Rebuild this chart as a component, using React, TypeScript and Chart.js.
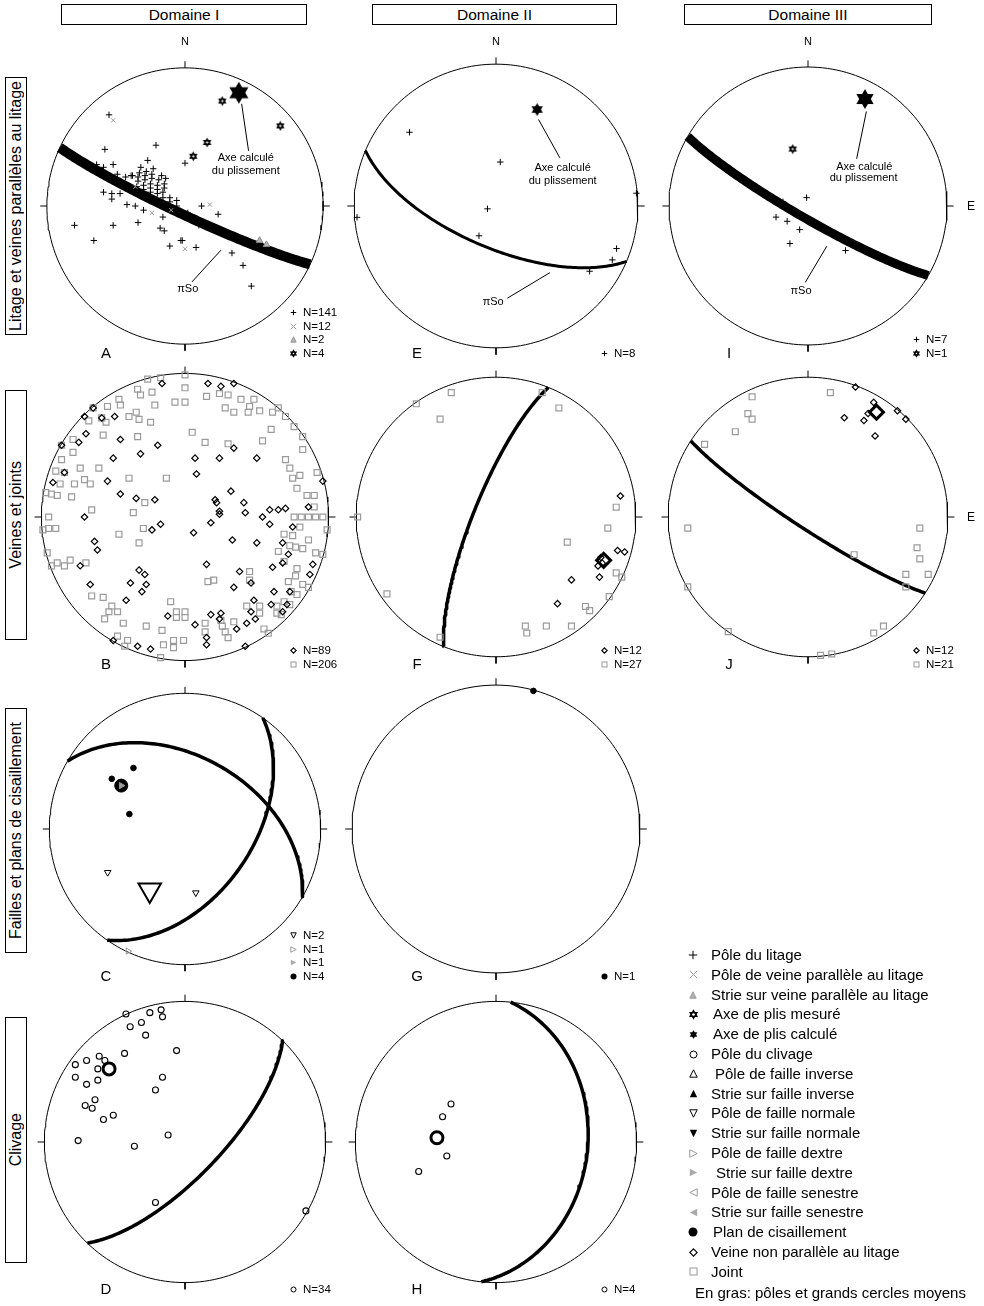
import React, { useEffect, useRef } from "react";
import { Chart, registerables } from "chart.js";

Chart.register(...registerables);

type P = [number, number];
type GC = [number, number]; // [dip direction, dip] in degrees

const FONT = '"Liberation Sans", Arial, Helvetica, sans-serif';

// ---------------- DATA (projected positions, primitive radius = 100, x = East, y = North) ----------------

// A : Domaine I, litage et veines parallèles
const A_polesLitage: P[] = [
  [-55, 66], [-58, 41], [-21, 44], [-27, 33], [0, 31], [-64, 30], [-59, 28], [-52, 30], [-49, 23], [-43, 21], [-38, 22], [-39, 22],
  [-32, 28], [-33, 24], [-34, 21], [-34, 18], [-35, 14],
  [-28, 25], [-29, 22], [-29, 19], [-30, 15], [-30, 12], [-30, 9],
  [-23, 27], [-24, 23], [-24, 20], [-25, 16], [-25, 13], [-25, 10], [-25, 6],
  [-17, 22], [-19, 19], [-20, 15], [-20, 12], [-20, 9],
  [-14, 20], [-15, 16], [-15, 13], [-16, 10], [-16, 6],
  [-11, 6], [-11, 3], [-6, 4],
  [-59, 10], [-53, 9], [-53, 5], [-47, 9], [-42, 1], [-36, 0], [-30, -3], [-6, 0], [12, 0], [2, -5], [24, -6],
  [-16, -8], [-80, -14], [-52, -14], [-34, -12], [18, -16], [10, -14], [-18, -16], [-15, -18],
  [-66, -25], [-3, -25], [-2, -25], [-11, -29], [8, -30], [34, -34], [42, -43], [48, -58]
];
const A_polesVeineParallele: P[] = [[-52, 62], [18, 1], [0, -31], [-24, -5], [-36, 14], [-10, -3]];
const A_strieVeineParallele: P[] = [[54, -25], [59, -28]];
const A_axePlisMesure: P[] = [[27, 76], [69, 58], [16, 46], [6, 36]];
const A_axePlisCalcule: P[] = [[39, 82]];
const A_grandCercle: GC[] = [[205, 85]];
const A_traits: [P, P][] = [[[41, 74], [46, 40]], [[5, -55], [26, -32]]];
const A_textes: [string, number, number][] = [["Axe calculé", 44, 34.5], ["du plissement", 44, 25.7], ["πSo", 2, -60]];

// E : Domaine II, litage
const E_polesLitage: P[] = [[-61, 52], [3, 31], [-6, -2], [-12, -21], [-98, -8], [99, 9], [85, -30], [82, -38], [66, -46]];
const E_axePlisCalcule: P[] = [[29, 68]];
const E_grandCercle: GC[] = [[203, 66]];
const E_traits: [P, P][] = [[[30, 61], [45, 34]], [[38, -47], [8, -65]]];
const E_textes: [string, number, number][] = [["Axe calculé", 47, 27], ["du plissement", 47, 18], ["πSo", -2, -68]];

// I : Domaine III, litage
const I_polesLitage: P[] = [[-18, 3], [-1, 6], [-23, -8], [-15, -11], [-6, -17], [-13, -27], [27, -32]];
const I_axePlisMesure: P[] = [[-11, 41]];
const I_axePlisCalcule: P[] = [[41, 77]];
const I_grandCercle: GC[] = [[210, 83]];
const I_traits: [P, P][] = [[[42, 68], [35, 34]], [[13.5, -29], [-2, -55]]];
const I_textes: [string, number, number][] = [["Axe calculé", 40.5, 28.4], ["du plissement", 40, 20.5], ["πSo", -5, -61.5]];

// B : Domaine I, veines et joints
const B_veines: P[] = [
  [-16, 93], [16, 93], [25, 91], [34, 93], [-70, 70], [-49, 70], [-69, 58], [-74, 52], [-45, 54], [-19, 50], [-50, 41], [-31, 44],
  [7, 41], [24, 41], [34, 48], [50, 41], [8, 30], [-54, 25], [-92, 24], [-45, 16], [-34, 13], [-21, 12], [21, 12], [22, 10],
  [32, 18], [41, 10], [42, 3], [24, 4], [24, 2], [18, -4], [6, -11], [54, 0], [59, 5], [65, 5], [70, 6], [59, -5], [75, -7],
  [86, 7], [96, 25], [-17, -5], [-23, -9], [-70, 0], [-63, -17], [-61, -23], [-73, -34], [-32, -37], [-28, -40], [-27, -47],
  [-38, -46], [-30, -52], [-66, -47], [-41, -58], [15, -33], [33, -16], [50, -18], [68, -18], [72, -26], [68, -32], [61, -35],
  [89, -33], [87, -40], [38, -38], [34, -49], [46, -46], [62, -52], [60, -61], [73, -52], [48, -58], [46, -66], [49, -71],
  [43, -74], [36, -78], [25, -67], [18, -68], [24, -71], [7, -75], [-12, -69], [15, -84], [15, -89], [-33, -90], [-24, -92],
  [-50, -86], [42, -90], [68, -66], [71, -61], [-64, 76], [-58, 69], [-84, 31], [-86, 50]
];
const B_joints: P[] = [
  [-26, 96], [-17, 97], [0, 99], [0, 90], [-33, 89], [-23, 87], [-31, 85], [15, 84], [24, 86], [30, 85], [39, 82], [48, 82],
  [45, 77], [34, 73], [28, 76], [44, 73], [52, 74], [61, 73], [65, 76], [70, 70], [76, 63], [60, 61], [82, 56], [-21, 78],
  [-7, 80], [0, 80], [-46, 82], [-45, 78], [-54, 77], [-64, 76], [-58, 69], [-39, 70], [-34, 73], [-32, 68], [-24, 66],
  [-55, 66], [-67, 67], [-78, 54], [-78, 45], [-57, 57], [-33, 56], [5, 59], [14, 52], [30, 51], [54, 53], [82, 47], [70, 40],
  [73, 34], [75, 27], [80, 29], [92, 31], [85, 15], [90, 15], [78, 20], [90, 7], [76, 0], [81, 0], [86, 0], [91, 0], [96, 0],
  [99, -9], [80, -7], [75, -13], [69, -12], [86, -16], [73, -20], [77, -21], [82, -22], [91, -25], [96, -26], [65, -24],
  [69, -31], [78, -36], [77, -41], [72, -45], [82, -47], [86, -49], [74, -52], [78, -54], [73, -61], [69, -59], [64, -62],
  [52, -62], [43, -62], [52, -67], [58, -81], [55, -78], [64, -67], [67, -68], [45, -38], [45, -44], [20, -44], [16, -45],
  [-10, -59], [-6, -66], [0, -66], [-6, -70], [0, -70], [14, -74], [14, -80], [25, -72], [26, -76], [28, -80], [34, -73],
  [30, -84], [-8, -86], [-1, -86], [-8, -91], [-15, -89], [-16, -79], [-27, -76], [-43, -74], [-47, -83], [-40, -86],
  [-42, -90], [-17, -98], [-57, -56], [-51, -62], [-53, -66], [-47, -66], [-56, -71], [-65, -55], [-80, -30], [-84, -34],
  [-89, -32], [-93, -34], [-96, -25], [-90, -8], [-95, -8], [-99, -9], [-95, 0], [-97, 17], [-93, 16], [-89, 15], [-79, 14],
  [-90, 32], [-87, 23], [-84, 31], [-77, 23], [-70, 26], [-66, 23], [-73, 34], [-60, 34], [-39, 27], [-13, 27], [-65, 5],
  [-36, 3], [-28, 10], [-46, -12], [-32, -18], [-29, -8], [-69, -32], [-86, 50], [-86, 40]
];

// F : Domaine II, veines et joints
const F_veines: P[] = [[89, 15], [87, -24], [92, -25], [73, -35], [74, -43], [54, -45], [44, -62], [75, -29], [76, -33]];
const F_veineMoyenne: P[] = [[77, -31]];
const F_joints: P[] = [
  [-32, 89], [-57, 81], [-40, 70], [33, 89], [45, 78], [86, 7], [80, -8], [51, -18], [-99, 0], [-78, -55], [-40, -86],
  [86, -40], [90, -43], [81, -57], [64, -64], [67, -67], [54, -78], [36, -78], [21, -78], [22, -83]
];
const F_grandCercle: GC[] = [[292, 77]];

// J : Domaine III, veines et joints
const J_veines: P[] = [[34, 93], [47, 82], [43, 74], [40, 69], [26, 71], [48, 58], [64, 76], [70, 70]];
const J_veineMoyenne: P[] = [[49, 75]];
const J_joints: P[] = [
  [16, 89], [-40, 86], [-43, 74], [-40, 70], [-52, 61], [-74, 52], [-86, -8], [-86, -50], [-57, -82], [9, -99], [17, -98],
  [47, -83], [54, -78], [33, -27], [70, -41], [70, -50], [86, -41], [80, -8], [78, -22], [80, -30]
];
const J_grandCercle: GC[] = [[213, 83]];

// C : Domaine I, failles et plans de cisaillement
const C_failleNormale: P[] = [[-57, -32], [8, -47]];
const C_failleNormaleMoyenne: P[] = [[-26, -45]];
const C_poleDextre: P[] = [[-42, -90]];
const C_strieDextre: P[] = [[-47, 32]];
const C_cisaillement: P[] = [[-38, 45], [-54, 37], [-41, 11]];
const C_cisaillementMoyen: P[] = [[-47, 32]];
const C_grandsCercles: GC[] = [[30, 46], [125, 49]];

// G : Domaine II, failles
const G_cisaillement: P[] = [[26, 96]];

// D : Domaine I, clivage
const D_clivage: P[] = [
  [-42, 91], [-25, 92], [-17, 94], [-16, 89], [-31, 85], [-39, 82], [-28, 76], [-6, 65], [-43, 63], [-61, 61], [-70, 58],
  [-57, 58], [-78, 55], [-62, 52], [-78, 46], [-62, 44], [-70, 41], [-16, 46], [-21, 37], [-64, 30], [-71, 26], [-66, 24],
  [-51, 19], [-58, 16], [-12, 5], [-76, 1], [-36, -3], [-21, -43], [86, -49]
];
const D_clivageMoyen: P[] = [[-54, 52]];
const D_grandCercle: GC[] = [[134, 70]];

// H : Domaine II, clivage
const H_clivage: P[] = [[-32, 27], [-38, 18], [-35, -10], [-55, -21]];
const H_clivageMoyen: P[] = [[-42, 3]];
const H_grandCercle: GC[] = [[96, 35]];

// Headers / labels
const DOMAINES = ["Domaine I", "Domaine II", "Domaine III"];
const RANGEES = ["Litage et veines parallèles au litage", "Veines et joints", "Failles et plans de cisaillement", "Clivage"];
const LEGENDE_SYMBOLES = [
  "plus", "x", "triGray", "hexSmall", "hexFilled", "circle", "triUp", "triUpFilled", "triDown", "triDownFilled",
  "triRightGray", "triRightGrayFilled", "triLeftGray", "triLeftGrayFilled", "dot", "diamond", "square"
];
const LEGENDE_TEXTES = [
  "Pôle du litage", "Pôle de veine parallèle au litage", "Strie sur veine parallèle au litage", "Axe de plis mesuré",
  "Axe de plis calculé", "Pôle du clivage", "Pôle de faille inverse", "Strie sur faille inverse", "Pôle de faille normale",
  "Strie sur faille normale", "Pôle de faille dextre", "Strie sur faille dextre", "Pôle de faille senestre",
  "Strie sur faille senestre", "Plan de cisaillement", "Veine non parallèle au litage", "Joint"
];
const LEGENDE_NOTE = "En gras: pôles et grands cercles moyens";

// ---------------- LAYOUT ----------------
const COLS = [185, 496, 808];
const ROWS = [206, 517, 829, 1142];
const PX_PER_UNIT = 1.48;
const HALF = 180;
const LIM = HALF / PX_PER_UNIT;
const LEGEND_INDENT: Record<number, number> = { 3: 2, 4: 2, 6: 4, 11: 5, 14: 2 };

type SetSpec = [string, P[], number?];
interface NetSpec {
  letter: string; col: number; row: number; north?: boolean; east?: boolean;
  sets: SetSpec[]; circles: [GC[], number][]; legend: [string, string][];
  traits?: [P, P][]; textes?: [string, number, number][];
}

const NETS: NetSpec[] = [
  {
    letter: "A", col: 0, row: 0, north: true,
    sets: [["hexFilled", A_axePlisCalcule, 22], ["hexSmall", A_axePlisMesure], ["triGray", A_strieVeineParallele], ["x", A_polesVeineParallele], ["plus", A_polesLitage]],
    circles: [[A_grandCercle, 10]],
    legend: [["plus", "N=141"], ["x", "N=12"], ["triGray", "N=2"], ["hexSmall", "N=4"]],
    traits: A_traits, textes: A_textes,
  },
  {
    letter: "E", col: 1, row: 0, north: true,
    sets: [["hexFilled", E_axePlisCalcule, 13], ["plus", E_polesLitage]],
    circles: [[E_grandCercle, 3]],
    legend: [["plus", "N=8"]],
    traits: E_traits, textes: E_textes,
  },
  {
    letter: "I", col: 2, row: 0, north: true, east: true,
    sets: [["hexFilled", I_axePlisCalcule, 20], ["hexSmall", I_axePlisMesure], ["plus", I_polesLitage]],
    circles: [[I_grandCercle, 9]],
    legend: [["plus", "N=7"], ["hexSmall", "N=1"]],
    traits: I_traits, textes: I_textes,
  },
  {
    letter: "B", col: 0, row: 1,
    sets: [["diamond", B_veines], ["square", B_joints]],
    circles: [],
    legend: [["diamond", "N=89"], ["square", "N=206"]],
  },
  {
    letter: "F", col: 1, row: 1,
    sets: [["diamondBold", F_veineMoyenne], ["diamond", F_veines], ["square", F_joints]],
    circles: [[F_grandCercle, 3.5]],
    legend: [["diamond", "N=12"], ["square", "N=27"]],
  },
  {
    letter: "J", col: 2, row: 1, east: true,
    sets: [["diamondBold", J_veineMoyenne], ["diamond", J_veines], ["square", J_joints]],
    circles: [[J_grandCercle, 3.5]],
    legend: [["diamond", "N=12"], ["square", "N=21"]],
  },
  {
    letter: "C", col: 0, row: 2,
    sets: [["triRightGrayFilled", C_strieDextre], ["dotBig", C_cisaillementMoyen], ["dot", C_cisaillement], ["triDownBig", C_failleNormaleMoyenne], ["triDown", C_failleNormale], ["triRightGray", C_poleDextre]],
    circles: [[C_grandsCercles, 3.5]],
    legend: [["triDown", "N=2"], ["triRightGray", "N=1"], ["triRightGrayFilled", "N=1"], ["dot", "N=4"]],
  },
  {
    letter: "G", col: 1, row: 2,
    sets: [["dot", G_cisaillement]],
    circles: [],
    legend: [["dot", "N=1"]],
  },
  {
    letter: "D", col: 0, row: 3,
    sets: [["circleBold", D_clivageMoyen], ["circle", D_clivage]],
    circles: [[D_grandCercle, 3.5]],
    legend: [["circle", "N=34"]],
  },
  {
    letter: "H", col: 1, row: 3,
    sets: [["circleBold", H_clivageMoyen], ["circle", H_clivage]],
    circles: [[H_grandCercle, 3.5]],
    legend: [["circle", "N=4"]],
  },
];

// ---------------- GEOMETRY ----------------
function greatCircle(dipDir: number, dip: number, n = 120) {
  const d2r = Math.PI / 180;
  const dd = dipDir * d2r, dp = dip * d2r;
  const st = dd - Math.PI / 2;
  const s = [Math.sin(st), Math.cos(st), 0];
  const d = [Math.cos(dp) * Math.sin(dd), Math.cos(dp) * Math.cos(dd), Math.sin(dp)];
  const pts: { x: number; y: number }[] = [];
  for (let i = 0; i <= n; i++) {
    const th = (i / n) * Math.PI;
    const v = [0, 1, 2].map((k) => s[k] * Math.cos(th) + d[k] * Math.sin(th));
    const plunge = Math.asin(Math.max(-1, Math.min(1, v[2])));
    const trend = Math.atan2(v[0], v[1]);
    const r = 100 * Math.SQRT2 * Math.sin((Math.PI / 2 - plunge) / 2);
    pts.push({ x: r * Math.sin(trend), y: r * Math.cos(trend) });
  }
  return pts;
}

const hexCache: Record<string, HTMLCanvasElement> = {};
function hexImage(size: number, filled: boolean): HTMLCanvasElement {
  const key = size + (filled ? "f" : "o");
  if (hexCache[key]) return hexCache[key];
  const c = document.createElement("canvas");
  const s = Math.ceil(size + 4);
  c.width = s; c.height = s;
  const g = c.getContext("2d")!;
  const r = size / 2, m = s / 2;
  g.fillStyle = "#000"; g.strokeStyle = "#000"; g.lineWidth = 1.4;
  [0, Math.PI].forEach((off) => {
    g.beginPath();
    for (let k = 0; k < 3; k++) {
      const a = off + (k * 2 * Math.PI) / 3;
      const px = m + r * Math.sin(a), py = m - r * Math.cos(a);
      if (k) g.lineTo(px, py); else g.moveTo(px, py);
    }
    g.closePath();
    if (filled) g.fill(); else g.stroke();
  });
  hexCache[key] = c;
  return c;
}

const GRAY = "#9a9a9a";
const NONE = "rgba(0,0,0,0)";

function pointDataset(kind: string, pts: P[], size?: number) {
  const base: any = {
    data: pts.map(([x, y]) => ({ x, y })), showLine: false, clip: false,
    pointBackgroundColor: NONE, pointBorderColor: "#000", pointBorderWidth: 1,
    pointRadius: 3, pointStyle: "circle", pointRotation: 0,
  };
  switch (kind) {
    case "plus": return { ...base, pointStyle: "cross", pointRadius: 3.2 };
    case "x": return { ...base, pointStyle: "crossRot", pointRadius: 3, pointBorderColor: GRAY };
    case "triGray": return { ...base, pointStyle: "triangle", pointRadius: 3.8, pointBackgroundColor: "#b4b4b4", pointBorderColor: "#8c8c8c" };
    case "hexSmall": return { ...base, pointStyle: hexImage(7, false), pointRadius: 4 };
    case "hexFilled": return { ...base, pointStyle: hexImage(size || 14, true), pointRadius: (size || 14) / 2 };
    case "diamond": return { ...base, pointStyle: "rectRot", pointRadius: 3.2, pointBorderWidth: 1.2 };
    case "diamondBold": return { ...base, pointStyle: "rectRot", pointRadius: 7, pointBorderWidth: 3 };
    case "square": return { ...base, pointStyle: "rect", pointRadius: 4.2, pointBorderWidth: 1.2, pointBorderColor: GRAY };
    case "circle": return { ...base, pointRadius: 3, pointBorderWidth: 1.1 };
    case "circleBold": return { ...base, pointRadius: 6, pointBorderWidth: 3 };
    case "dot": return { ...base, pointRadius: 2.8, pointBackgroundColor: "#000" };
    case "dotBig": return { ...base, pointRadius: 6.5, pointBackgroundColor: "#000" };
    case "triDown": return { ...base, pointStyle: "triangle", pointRotation: 180, pointRadius: 3.8 };
    case "triDownBig": return { ...base, pointStyle: "triangle", pointRotation: 180, pointRadius: 13, pointBorderWidth: 2 };
    case "triRightGray": return { ...base, pointStyle: "triangle", pointRotation: 90, pointRadius: 3.6, pointBorderColor: GRAY };
    case "triRightGrayFilled": return { ...base, pointStyle: "triangle", pointRotation: 90, pointRadius: 3.6, pointBorderColor: GRAY, pointBackgroundColor: GRAY };
  }
  return base;
}

function lineDataset(pts: { x: number; y: number }[], width: number) {
  return {
    data: pts, showLine: true, clip: false, borderColor: "#000", borderWidth: width,
    pointRadius: 0, tension: 0, borderCapStyle: "butt", borderJoinStyle: "round", fill: false,
  };
}

const PRIMITIVE = Array.from({ length: 181 }, (_, i) => {
  const a = (i / 180) * 2 * Math.PI;
  return { x: 100 * Math.sin(a), y: 100 * Math.cos(a) };
});
const TICK_DIRS = [0, 90, 180, 270];

function buildConfig(spec: NetSpec): any {
  const datasets: any[] = [];
  for (const [kind, pts, size] of spec.sets) datasets.push(pointDataset(kind, pts, size));
  for (const [list, w] of spec.circles) for (const [dd, dip] of list) datasets.push(lineDataset(greatCircle(dd, dip), w));
  for (const az of TICK_DIRS) {
    const a = (az * Math.PI) / 180;
    datasets.push(lineDataset([{ x: 100 * Math.sin(a), y: 100 * Math.cos(a) }, { x: 104.8 * Math.sin(a), y: 104.8 * Math.cos(a) }], 1));
  }
  datasets.push(lineDataset(PRIMITIVE, 1));

  const annot = {
    id: "stereoAnnot",
    afterDatasetsDraw(chart: any) {
      const { ctx } = chart;
      const xs = chart.scales.x, ys = chart.scales.y;
      ctx.save();
      ctx.strokeStyle = "#000"; ctx.lineWidth = 1;
      for (const [[x1, y1], [x2, y2]] of spec.traits || []) {
        ctx.beginPath();
        ctx.moveTo(xs.getPixelForValue(x1), ys.getPixelForValue(y1));
        ctx.lineTo(xs.getPixelForValue(x2), ys.getPixelForValue(y2));
        ctx.stroke();
      }
      ctx.fillStyle = "#000"; ctx.font = `11px ${FONT}`;
      ctx.textAlign = "center"; ctx.textBaseline = "middle";
      for (const [t, x, y] of spec.textes || []) ctx.fillText(t, xs.getPixelForValue(x), ys.getPixelForValue(y));
      ctx.restore();
    },
  };

  return {
    type: "scatter",
    data: { datasets },
    options: {
      animation: false, responsive: false, events: [],
      layout: { padding: 0 },
      plugins: { legend: { display: false }, tooltip: { enabled: false } },
      scales: {
        x: { type: "linear", min: -LIM, max: LIM, display: false },
        y: { type: "linear", min: -LIM, max: LIM, display: false },
      },
    },
    plugins: [annot],
  };
}

// ---------------- COMPONENTS ----------------
function Marker({ kind, s }: { kind: string; s: number }) {
  const h = s / 2, e = 0.8;
  const up = `${h},${e} ${s - e},${s - e} ${e},${s - e}`;
  const down = `${e},${e} ${s - e},${e} ${h},${s - e}`;
  const right = `${e},${e} ${s - e},${h} ${e},${s - e}`;
  const left = `${s - e},${e} ${e},${h} ${s - e},${s - e}`;
  const hex = (f: boolean) => {
    const r = h - 0.6;
    const tri = (off: number) => [0, 1, 2].map((k) => {
      const a = off + (k * 2 * Math.PI) / 3;
      return `${h + r * Math.sin(a)},${h - r * Math.cos(a)}`;
    }).join(" ");
    return (
      <g fill={f ? "#000" : "none"} stroke="#000" strokeWidth={f ? 0.5 : 1.3}>
        <polygon points={tri(0)} /><polygon points={tri(Math.PI)} />
      </g>
    );
  };
  let el: any = null;
  switch (kind) {
    case "plus": el = <path d={`M${h} ${e}V${s - e}M${e} ${h}H${s - e}`} stroke="#000" strokeWidth={1} />; break;
    case "x": el = <path d={`M${e} ${e}L${s - e} ${s - e}M${s - e} ${e}L${e} ${s - e}`} stroke={GRAY} strokeWidth={1} />; break;
    case "triGray": el = <polygon points={up} fill="#b4b4b4" stroke="#8c8c8c" strokeWidth={0.8} />; break;
    case "hexSmall": el = hex(false); break;
    case "hexFilled": el = hex(true); break;
    case "circle": el = <circle cx={h} cy={h} r={h - 1} fill="none" stroke="#000" strokeWidth={1} />; break;
    case "dot": el = <circle cx={h} cy={h} r={h - 0.5} fill="#000" />; break;
    case "triUp": el = <polygon points={up} fill="none" stroke="#000" strokeWidth={1} />; break;
    case "triUpFilled": el = <polygon points={up} fill="#000" />; break;
    case "triDown": el = <polygon points={down} fill="none" stroke="#000" strokeWidth={1} />; break;
    case "triDownFilled": el = <polygon points={down} fill="#000" />; break;
    case "triRightGray": el = <polygon points={right} fill="none" stroke={GRAY} strokeWidth={1} />; break;
    case "triRightGrayFilled": el = <polygon points={right} fill="#aaa" />; break;
    case "triLeftGray": el = <polygon points={left} fill="none" stroke={GRAY} strokeWidth={1} />; break;
    case "triLeftGrayFilled": el = <polygon points={left} fill="#aaa" />; break;
    case "diamond": el = <polygon points={`${h},${e} ${s - e},${h} ${h},${s - e} ${e},${h}`} fill="none" stroke="#000" strokeWidth={1.1} />; break;
    case "square": el = <rect x={1} y={1} width={s - 2} height={s - 2} fill="none" stroke={GRAY} strokeWidth={1} />; break;
  }
  return <svg width={s} height={s} viewBox={`0 0 ${s} ${s}`} style={{ display: "block", overflow: "visible" }}>{el}</svg>;
}

function StereoNet({ spec }: { spec: NetSpec }) {
  const ref = useRef<HTMLCanvasElement>(null);
  useEffect(() => {
    const chart = new Chart(ref.current as HTMLCanvasElement, buildConfig(spec));
    return () => chart.destroy();
  }, [spec]);
  const cx = COLS[spec.col], cy = ROWS[spec.row];
  const n = spec.legend.length;
  return (
    <>
      <canvas ref={ref} width={2 * HALF} height={2 * HALF}
        style={{ position: "absolute", left: cx - HALF, top: cy - HALF, width: 2 * HALF, height: 2 * HALF }} />
      {spec.north && (
        <div style={{ position: "absolute", left: cx - 10, top: cy - 171, width: 20, textAlign: "center", fontSize: 11, lineHeight: "13px" }}>N</div>
      )}
      {spec.east && (
        <div style={{ position: "absolute", left: cx + 159, top: cy - 7, fontSize: 12, lineHeight: "14px" }}>E</div>
      )}
      <div style={{ position: "absolute", left: cx - 89, top: cy + 138, width: 20, textAlign: "center", fontSize: 15, lineHeight: "17px" }}>{spec.letter}</div>
      {spec.legend.map(([kind, label], i) => {
        const yc = cy + 147.5 - (n - 1 - i) * 13.7;
        return (
          <React.Fragment key={i}>
            <div style={{ position: "absolute", left: cx + 108 - 3.5, top: yc - 3.5 }}><Marker kind={kind} s={7} /></div>
            <div style={{ position: "absolute", left: cx + 118, top: yc - 6.5, fontSize: 11.5, lineHeight: "13px", whiteSpace: "nowrap" }}>{label}</div>
          </React.Fragment>
        );
      })}
    </>
  );
}

const HEADER_BOXES = [[61, 246], [372, 245], [684, 248]];
const ROW_BOXES = [[77, 258], [390, 250], [708, 245], [1017, 246]];
const LEGEND_SIZES: Record<string, number> = { plus: 10, x: 9, triGray: 8, dot: 10 };

export default function App() {
  return (
    <div style={{ position: "absolute", left: 0, top: 0, width: 984, height: 1306, background: "#fff", fontFamily: FONT, color: "#000", overflow: "hidden" }}>
      {DOMAINES.map((d, i) => (
        <div key={d} style={{
          position: "absolute", left: HEADER_BOXES[i][0], top: 4, width: HEADER_BOXES[i][1], height: 21,
          boxSizing: "border-box", border: "1px solid #000", textAlign: "center", fontSize: 15.5, lineHeight: "19px",
        }}>{d}</div>
      ))}
      {RANGEES.map((r, i) => (
        <div key={r} style={{
          position: "absolute", left: 5, top: ROW_BOXES[i][0], width: 22, height: ROW_BOXES[i][1], boxSizing: "border-box",
          border: "1px solid #000", display: "flex", alignItems: "center", justifyContent: "center",
        }}>
          <span style={{ writingMode: "vertical-rl", transform: "rotate(180deg)", fontSize: 16, lineHeight: "20px", whiteSpace: "nowrap" }}>{r}</span>
        </div>
      ))}
      {NETS.map((s) => <StereoNet key={s.letter} spec={s} />)}
      {LEGENDE_TEXTES.map((t, i) => {
        const yc = 955 + i * 19.8;
        const ms = LEGEND_SIZES[LEGENDE_SYMBOLES[i]] || 9;
        return (
          <React.Fragment key={t}>
            <div style={{ position: "absolute", left: 693 - ms / 2, top: yc - ms / 2 }}><Marker kind={LEGENDE_SYMBOLES[i]} s={ms} /></div>
            <div style={{ position: "absolute", left: 711 + (LEGEND_INDENT[i] || 0), top: yc - 9, fontSize: 15, lineHeight: "18px", whiteSpace: "nowrap" }}>{t}</div>
          </React.Fragment>
        );
      })}
      <div style={{ position: "absolute", left: 695, top: 1292.7 - 9, fontSize: 15, lineHeight: "18px", whiteSpace: "nowrap" }}>{LEGENDE_NOTE}</div>
    </div>
  );
}
